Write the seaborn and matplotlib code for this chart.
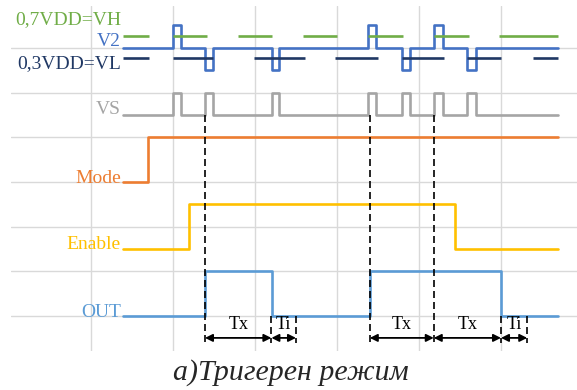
import matplotlib
matplotlib.use('Agg')
import matplotlib.pyplot as plt
import seaborn as sns

# signal levels, time in grid units
v2_t = [1.39, 2.00, 2.10, 2.39, 2.49, 3.21, 3.29, 4.38, 4.48, 4.79, 4.89, 5.18, 5.29, 5.59, 5.70, 6.70]
v2_v = [6.0, 6.5, 6.0, 5.5, 6.0, 5.5, 6.0, 6.5, 6.0, 5.5, 6.0, 6.5, 6.0, 5.5, 6.0, 6.0]
vs_t = [1.39, 2.00, 2.10, 2.39, 2.49, 3.21, 3.29, 4.38, 4.48, 4.79, 4.89, 5.18, 5.29, 5.59, 5.70, 6.70]
vs_v = [4.5, 5.0, 4.5, 5.0, 4.5, 5.0, 4.5, 5.0, 4.5, 5.0, 4.5, 5.0, 4.5, 5.0, 4.5, 4.5]
mode_t = [1.39, 1.70, 6.70]
mode_v = [3.0, 4.0, 4.0]
enable_t = [1.39, 2.20, 5.44, 6.70]
enable_v = [1.5, 2.5, 1.5, 1.5]
out_t = [1.39, 2.39, 3.21, 4.40, 6.00, 6.70]
out_v = [0.0, 1.0, 0.0, 1.0, 0.0, 0.0]

vh_level = 6.26
vh_start = [1.39, 2.00, 2.79, 3.59, 4.38, 5.18, 5.98]
vh_end = [1.71, 2.41, 3.21, 4.00, 4.80, 5.61, 6.70]
vl_level = 5.77
vl_start = [1.39, 2.00, 2.99, 3.98, 4.79, 5.59, 6.39]
vl_end = [1.71, 2.49, 3.61, 4.50, 5.30, 6.00, 6.70]

# timing markers
long_marks = [2.39, 4.40, 5.18]     # from VS down
short_marks = [3.20, 3.50, 6.00, 6.32]  # from OUT down
arrow_from = [2.39, 3.20, 4.40, 5.18, 6.00]
arrow_to = [3.20, 3.50, 5.18, 6.00, 6.32]
arrow_lbl = ['Tx', 'Ti', 'Tx', 'Tx', 'Ti']

labels = ['0,7VDD=VH', 'V2', '0,3VDD=VL', 'VS', 'Mode', 'Enable', 'OUT']
label_y = [6.52, 6.05, 5.55, 4.52, 2.98, 1.49, -0.02]

green = '#70AD47'
blue = '#4472C4'
navy = '#203864'
gray = '#A5A5A5'
orange = '#ED7D31'
yellow = '#FFC000'
light = '#5B9BD5'
label_colors = [green, blue, navy, gray, orange, yellow, light]

sns.set_style('whitegrid')
plt.rcParams['font.family'] = ['Liberation Serif', 'DejaVu Serif']

fig = plt.figure(figsize=(5.77, 3.90), dpi=100)
ax = fig.add_axes([11 / 577, 39 / 390, 566 / 577, 345 / 390])

lw = 1.9
sns.lineplot(x=v2_t, y=v2_v, drawstyle='steps-post', estimator=None, sort=False,
             color=blue, lw=lw, ax=ax)
ax.hlines([vh_level] * len(vh_start), vh_start, vh_end, color=green, lw=lw)
ax.hlines([vl_level] * len(vl_start), vl_start, vl_end, color=navy, lw=lw)
for t, v, c in [(vs_t, vs_v, gray), (mode_t, mode_v, orange),
                (enable_t, enable_v, yellow), (out_t, out_v, light)]:
    sns.lineplot(x=t, y=v, drawstyle='steps-post', estimator=None, sort=False,
                 color=c, lw=lw, ax=ax)

for x in long_marks:
    ax.plot([x, x], [4.5, -0.6], color='black', lw=1.2, dashes=(4.2, 2.4))
for x in short_marks:
    ax.plot([x, x], [0.0, -0.6], color='black', lw=1.2, dashes=(4.2, 2.4))

for x0, x1, s in zip(arrow_from, arrow_to, arrow_lbl):
    ax.annotate('', xy=(x1, -0.49), xytext=(x0, -0.49),
                arrowprops=dict(arrowstyle='<|-|>', color='black', lw=1.3,
                                shrinkA=0, shrinkB=0, mutation_scale=11))
    ax.text((x0 + x1) / 2, -0.2, s, ha='center', va='center', fontsize=13, color='black')

for s, y, c in zip(labels, label_y, label_colors):
    ax.text(1.365, y, s, ha='right', va='baseline', fontsize=14, color=c)

ax.set_xlim(2 / 82, 568 / 82)
ax.set_ylim(-35 / 44.7, 310 / 44.7)
ax.set_xticks(range(1, 7))
ax.set_yticks(range(0, 7))
ax.set_xticklabels([])
ax.set_yticklabels([])
ax.tick_params(length=0)
ax.grid(True, color='#D9D9D9', lw=1.0)
for sp in ax.spines.values():
    sp.set_visible(False)
ax.set_xlabel('')
ax.set_ylabel('')

fig.text(291 / 577, 1 - 373 / 390, 'а)Тригерен режим', ha='center', va='center',
         fontsize=21.5, style='italic', family='Liberation Serif')

fig.savefig('out.png', dpi=100)
